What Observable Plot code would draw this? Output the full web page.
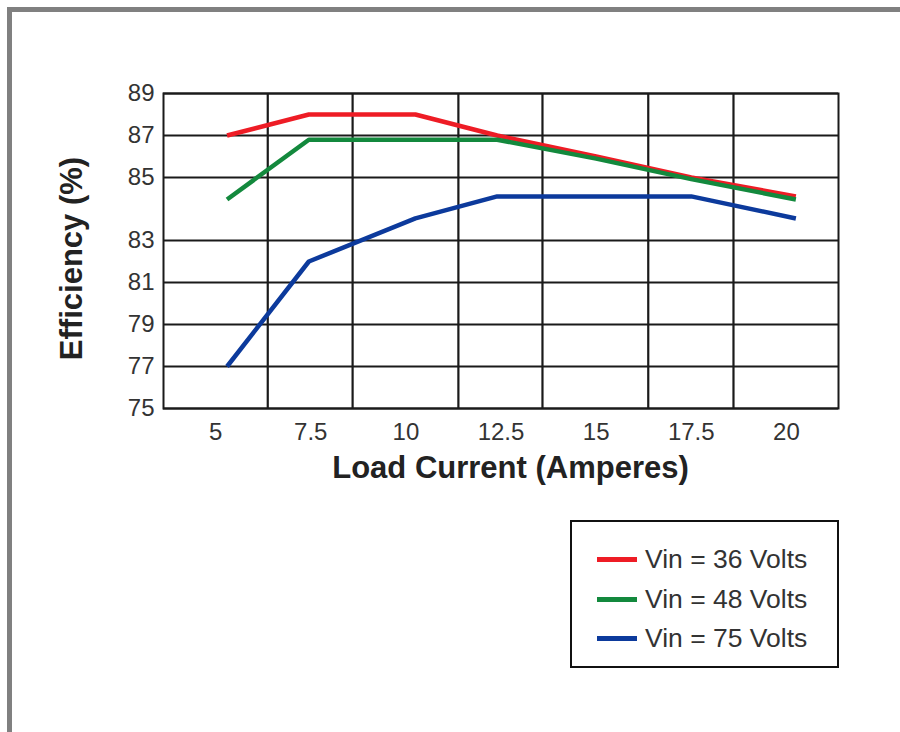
<!DOCTYPE html>
<html>
<head>
<meta charset="utf-8">
<script src="https://cdn.jsdelivr.net/npm/d3@7"></script>
<script src="https://cdn.jsdelivr.net/npm/@observablehq/plot@0.6"></script>
<style>
  html, body { margin: 0; padding: 0; background: #fff; width: 900px; height: 732px; overflow: hidden;
    font-family: "Liberation Sans", Arial, Helvetica, sans-serif; }
  #page { position: absolute; left: 7px; top: 7px; width: 1000px; height: 1000px;
    border-top: 5px solid #808080; border-left: 5px solid #808080; }
  #chart { position: absolute; left: 0; top: 0; }
  #legend { position: absolute; left: 570px; top: 520px; width: 269px; height: 148px;
    box-sizing: border-box; border: 2px solid #111; background: #fff; }
  .row { position: absolute; left: 0; height: 30px; width: 260px; }
  .sw { position: absolute; left: 25px; top: 13px; width: 40px; height: 5px; }
  .lab { position: absolute; left: 73px; top: 0; font-size: 26.5px; line-height: 30px; color: #333; white-space: nowrap; }
</style>
</head>
<body>
<div id="page"></div>
<div id="chart"></div>
<div id="legend"></div>
<script>
// ---- data ----
const seriesNames = ["Vin = 36 Volts", "Vin = 48 Volts", "Vin = 75 Volts"];
const seriesColors = ["#ee1c25", "#13893d", "#0c3a9c"];
const loadCurrent = [5.3, 7.45, 10.25, 12.4, 15, 17.5, 20.25];
const eff36 = [87, 88, 88, 87, 86, 85, 84.4];
const eff48 = [84.3, 86.8, 86.8, 86.8, 85.9, 84.95, 84.3];
const eff75 = [77, 82, 83.7, 84.4, 84.4, 84.4, 83.7];
const xTicks = [5, 7.5, 10, 12.5, 15, 17.5, 20];
const yTicks = [75, 77, 79, 81, 83, 85, 87, 89];
const xGridLines = [6.37, 8.6, 11.38, 13.59, 16.37, 18.61];
const yBreaks = [75, 83, 85, 89]; // the original axis is stretched between 83 and 85

const effSeries = [eff36, eff48, eff75];
const rows = [];
seriesNames.forEach((name, i) => {
  loadCurrent.forEach((c, j) => rows.push({series: name, current: c, eff: effSeries[i][j]}));
});

const W = 900, H = 500;
const mTop = 93, mBottom = 92, mLeft = 163, mRight = 62;
const y0 = H - mBottom, y1 = mTop;
// piecewise pixel range: 83-85 band is 1.5x the normal step
const unit = (y0 - y1) / 15;
const yRange = [y0, y0 - 8 * unit, y0 - 11 * unit, y1];
const fmt = d => String(d);

const plot = Plot.plot({
  width: W, height: H,
  marginTop: mTop, marginBottom: mBottom, marginLeft: mLeft, marginRight: mRight,
  style: {fontFamily: '"Liberation Sans", Arial, Helvetica, sans-serif', color: "#333", background: "transparent", overflow: "visible"},
  x: {type: "linear", domain: [3.63, 21.37]},
  y: {type: "linear", domain: yBreaks, range: yRange},
  color: {domain: seriesNames, range: seriesColors},
  marks: [
    Plot.gridY(yTicks, {stroke: "#1a1a1a", strokeOpacity: 1, strokeWidth: 2}),
    Plot.ruleX(xGridLines, {stroke: "#1a1a1a", strokeOpacity: 1, strokeWidth: 2.2}),
    Plot.frame({stroke: "#1a1a1a", strokeWidth: 2}),
    Plot.line(rows, {x: "current", y: "eff", z: "series", stroke: "series", strokeWidth: 4.5, strokeLinejoin: "round", strokeLinecap: "butt"}),
    Plot.axisX(xTicks, {tickSize: 0, tickPadding: 14, fontSize: 24, label: null, fill: "#333", tickFormat: fmt}),
    Plot.axisY(yTicks, {tickSize: 0, tickPadding: 9, fontSize: 24, label: null, fill: "#333", tickFormat: fmt}),
    Plot.text(["Efficiency (%)"], {frameAnchor: "left", textAnchor: "middle", lineAnchor: "middle", rotate: -90, dx: -91, dy: 7.5, fontSize: 31, fontWeight: "bold", fill: "#222"}),
    Plot.text(["Load Current (Amperes)"], {frameAnchor: "bottom", textAnchor: "middle", lineAnchor: "middle", dx: 9.5, dy: 59.5, fontSize: 31, fontWeight: "bold", fill: "#222"})
  ]
});
document.getElementById("chart").appendChild(plot);

// legend
const leg = document.getElementById("legend");
seriesNames.forEach((name, i) => {
  const row = document.createElement("div");
  row.className = "row";
  row.style.top = (22 + i * 39.5) + "px";
  const sw = document.createElement("div");
  sw.className = "sw";
  sw.style.background = seriesColors[i];
  const lab = document.createElement("div");
  lab.className = "lab";
  lab.textContent = name;
  row.appendChild(sw); row.appendChild(lab);
  leg.appendChild(row);
});
</script>
</body>
</html>
